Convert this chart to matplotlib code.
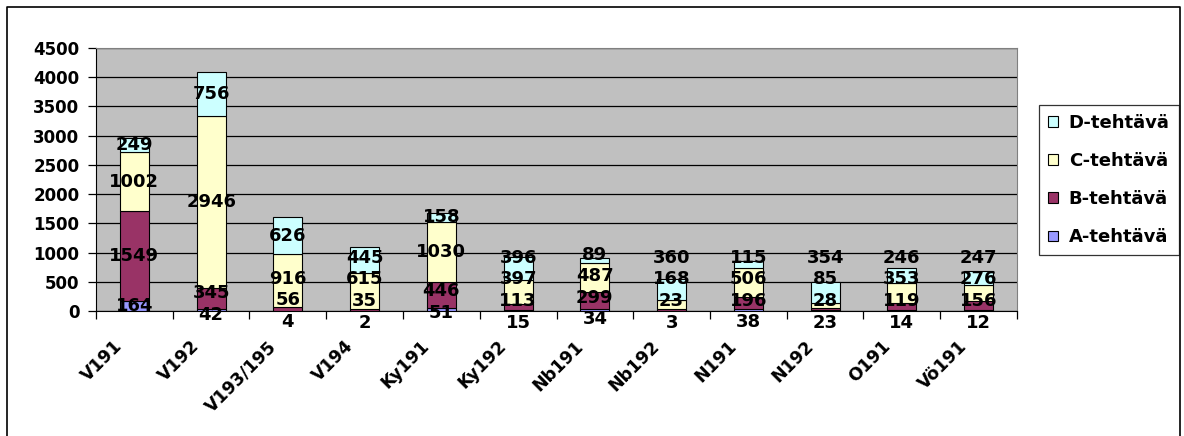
import matplotlib
matplotlib.use('Agg')
from matplotlib import rcParams
rcParams['font.family'] = ['DejaVu Sans']
rcParams['font.weight'] = 'bold'
import matplotlib.pyplot as plt
from matplotlib.lines import Line2D
from matplotlib.transforms import ScaledTranslation
import numpy as np

categories = ['V191', 'V192', 'V193/195', 'V194', 'Ky191', 'Ky192',
              'Nb191', 'Nb192', 'N191', 'N192', 'O191', 'Vö191']
a_task = [164, 42, 4, 2, 51, 15, 34, 3, 38, 23, 14, 12]
b_task = [1549, 345, 56, 35, 446, 113, 299, 23, 196, 28, 119, 156]
c_task = [1002, 2946, 916, 615, 1030, 397, 487, 168, 506, 85, 353, 276]
d_task = [249, 756, 626, 445, 158, 396, 89, 360, 115, 354, 246, 247]

series = [('A-tehtävä', a_task, '#9999FF'),
          ('B-tehtävä', b_task, '#993366'),
          ('C-tehtävä', c_task, '#FFFFCC'),
          ('D-tehtävä', d_task, '#CCFFFF')]


def spread(ys, gap=370, floor=-200):
    # push the labels of one bar apart so they don't sit on top of each other
    ys = list(ys)
    for _ in range(50):
        for i in range(1, len(ys)):
            d = ys[i] - ys[i - 1]
            if d < gap:
                s = (gap - d) / 2
                ys[i - 1] -= s
                ys[i] += s
        if ys[0] < floor:
            ys[0] = floor
            for i in range(1, len(ys)):
                if ys[i] - ys[i - 1] < gap:
                    ys[i] = ys[i - 1] + gap
    return ys


fig = plt.figure(figsize=(11.84, 4.36), dpi=100)
ax = fig.add_axes([96 / 1184, 125 / 436, 921 / 1184, 263 / 436])
ax.set_facecolor('#C0C0C0')

x = np.arange(len(categories))
bottom = np.zeros(len(categories))
centers = []
for name, vals, col in series:
    vals = np.array(vals, dtype=float)
    ax.bar(x, vals, 0.38, bottom=bottom, color=col, edgecolor='black',
           linewidth=0.8, label=name, zorder=3)
    centers.append(bottom + vals / 2)
    bottom = bottom + vals

for j in range(len(categories)):
    ys = spread([c[j] for c in centers])
    for (name, vals, col), yy in zip(series, ys):
        ax.text(x[j], yy, str(vals[j]), ha='center', va='center',
                fontsize=13, fontweight='bold', zorder=5, clip_on=False)

ax.set_xlim(-0.5, len(categories) - 0.5)
ax.set_ylim(0, 4500)
ax.set_yticks(np.arange(0, 4501, 500))
ax.yaxis.grid(True, color='black', linewidth=0.9, zorder=1)
ax.set_axisbelow(True)
ax.tick_params(axis='y', direction='out', length=6, width=0.9, labelsize=12, pad=6)

ax.set_xticks(x)
ax.set_xticklabels(categories, rotation=45, ha='right', va='baseline',
                   rotation_mode='anchor', fontsize=12.5, fontweight='bold')
ax.set_xticks(np.arange(-0.5, len(categories)), minor=True)
ax.tick_params(axis='x', which='major', length=0, pad=26)
ax.tick_params(axis='x', which='minor', direction='out', length=6, width=0.9)
shift = ScaledTranslation(-11 / 100, 0, fig.dpi_scale_trans)
for lbl in ax.get_xticklabels():
    lbl.set_transform(lbl.get_transform() + shift)

for side in ['top', 'right']:
    ax.spines[side].set_color('#808080')
ax.spines['left'].set_color('black')
ax.spines['bottom'].set_color('black')

handles, labels = ax.get_legend_handles_labels()
leg = fig.legend(handles[::-1], labels[::-1], loc='center left',
                 bbox_to_anchor=(1039 / 1184, 1 - 180 / 436),
                 fontsize=13, frameon=True, fancybox=False, edgecolor='black',
                 handlelength=0.55, handleheight=0.55, handletextpad=0.6,
                 labelspacing=1.12, borderpad=0.5, borderaxespad=0)
leg.get_frame().set_linewidth(0.9)

# chart area border (bottom edge runs off the image)
fig.add_artist(Line2D([7 / 1184, 7 / 1184, 1180 / 1184, 1180 / 1184],
                      [-0.1, 1 - 7 / 436, 1 - 7 / 436, -0.1],
                      transform=fig.transFigure, color='black', linewidth=1.2))

fig.savefig('out.png', dpi=100)
plt.close(fig)
